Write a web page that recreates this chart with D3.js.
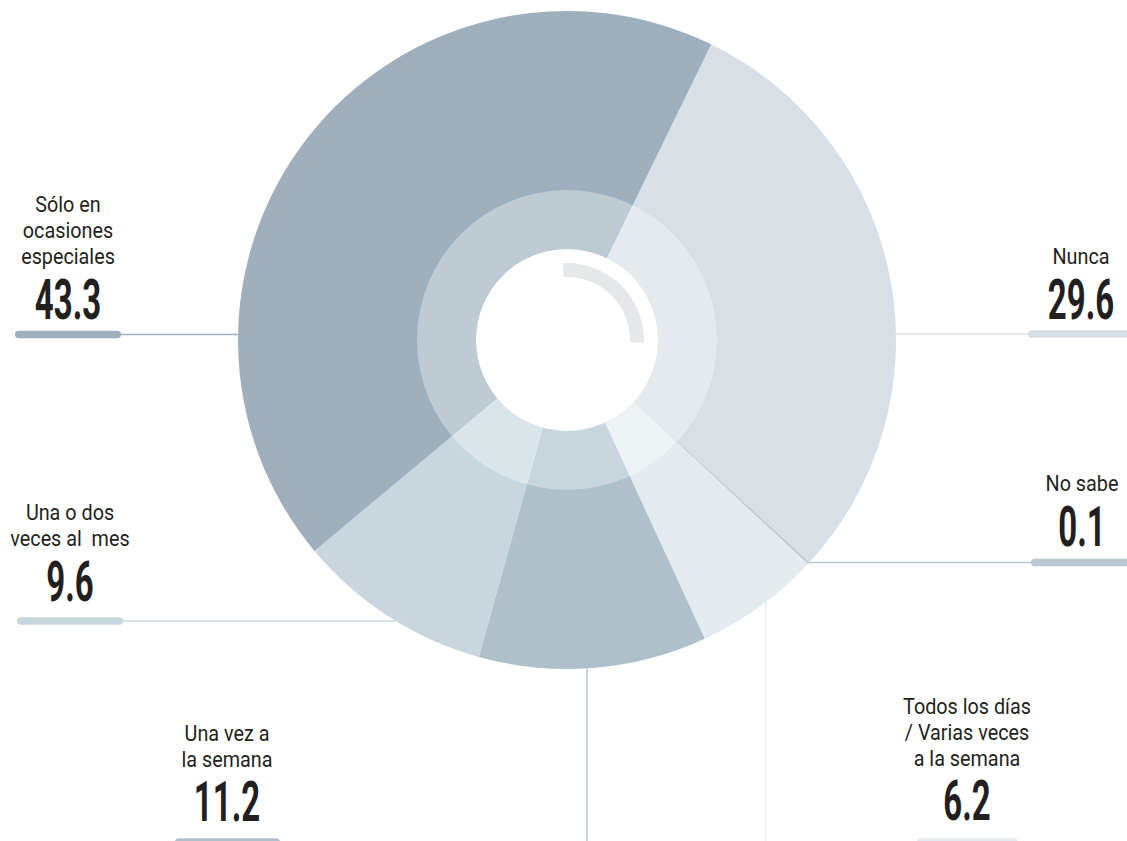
<!DOCTYPE html>
<html>
<head>
<meta charset="utf-8">
<script src="https://cdn.jsdelivr.net/npm/d3@7/dist/d3.min.js"></script>
<style>
  html, body { margin: 0; padding: 0; background: #fff; }
  svg { display: block; }
  .lbl { font-family: Roboto, "Liberation Sans", sans-serif; font-size: 22px; fill: #231f20; }
  .num { font-family: Roboto, "Liberation Sans", sans-serif; font-size: 55px; font-weight: 700; fill: #231f20; }
</style>
</head>
<body>
<svg id="chart"></svg>
<script>
const CATEGORIES = ['Nunca', 'No sabe', 'Todos los días / Varias veces a la semana',
                    'Una vez a la semana', 'Una o dos veces al mes', 'Sólo en ocasiones especiales'];
const LABEL_LINES = [
  ['Nunca'],
  ['No sabe'],
  ['Todos los días', '/ Varias veces', 'a la semana'],
  ['Una vez a', 'la semana'],
  ['Una o dos', 'veces al\u00a0 mes'],
  ['Sólo en', 'ocasiones', 'especiales']
];
const VALUES = [29.6, 0.1, 6.2, 11.2, 9.6, 43.3];
const VALUE_LABELS = ['29.6', '0.1', '6.2', '11.2', '9.6', '43.3'];

const COLORS = ['#d8e0e5', '#b9c8d0', '#e4ebee', '#aec0ca', '#c8d6dd', '#9eb0bd'];

const WIDTH = 1127;
const HEIGHT = 841;
const CX = 567, CY = 340;
const R_OUTER = 329, R_MID = 150, R_INNER = 91;
const START = 26 * Math.PI / 180;

// label placement, same order as CATEGORIES
const LAYOUT = [
  { x: 1081, y0: 264, numY: 319, barY: 334, bar: [1028, 1134], leader: 'right' },
  { x: 1082, y0: 491, numY: 546, barY: 562.5, bar: [1031, 1137], leader: 'right' },
  { x: 967, y0: 714, numY: 820, barY: 842, bar: [917, 1018], leader: 'down', lx: 766 },
  { x: 227, y0: 741, numY: 821, barY: 842, bar: [175, 280], leader: 'down', lx: 587 },
  { x: 70, y0: 520, numY: 601, barY: 621, bar: [17, 123], leader: 'left' },
  { x: 68, y0: 212, numY: 319, barY: 334.5, bar: [15, 121], leader: 'left' }
];
const LINE_H = 26;

const svg = d3.select('#chart')
              .attr('width', WIDTH)
              .attr('height', HEIGHT);

const pie = d3.pie().sort(null).value(d => d)
              .startAngle(START).endAngle(START + 2 * Math.PI);
const arcs = pie(VALUES);

const outerArc = d3.arc().innerRadius(0).outerRadius(R_OUTER);

const donut = svg.append('g').attr('transform', `translate(${CX},${CY})`);

donut.selectAll('.slice')
     .data(arcs)
     .enter()
     .append('path')
     .classed('slice', true)
     .attr('d', outerArc)
     .attr('fill', (d, i) => COLORS[i]);

// lighter middle ring
donut.append('path')
     .attr('d', d3.arc()({ innerRadius: R_INNER, outerRadius: R_MID, startAngle: 0, endAngle: 2 * Math.PI }))
     .attr('fill', '#fff')
     .attr('fill-opacity', 0.34);

donut.append('circle')
     .attr('r', R_INNER)
     .attr('fill', '#fff');

// small grey arc in the hole
donut.append('path')
     .attr('d', d3.arc()({ innerRadius: 63, outerRadius: 77,
                           startAngle: -3 * Math.PI / 180, endAngle: 92 * Math.PI / 180 }))
     .attr('fill', '#e6e7e8');

// leaders
const leaders = svg.append('g');
LAYOUT.forEach((l, i) => {
  let x1, y1, x2, y2;
  if (l.leader === 'down') {
    const dx = l.lx - CX;
    x1 = x2 = l.lx;
    y1 = CY + Math.sqrt(R_OUTER * R_OUTER - dx * dx);
    y2 = HEIGHT;
  } else {
    const dy = l.barY - CY;
    const edge = Math.sqrt(R_OUTER * R_OUTER - dy * dy);
    y1 = y2 = l.barY;
    if (l.leader === 'left') { x1 = l.bar[1]; x2 = CX - edge; }
    else { x1 = CX + edge; x2 = l.bar[0]; }
  }
  leaders.append('line')
         .attr('x1', x1).attr('y1', y1)
         .attr('x2', x2).attr('y2', y2)
         .attr('stroke', COLORS[i])
         .attr('stroke-width', 1.4);

  leaders.append('line')
         .attr('x1', l.bar[0] + 3.75).attr('x2', l.bar[1] - 3.75)
         .attr('y1', l.barY).attr('y2', l.barY)
         .attr('stroke', COLORS[i])
         .attr('stroke-width', 7.5)
         .attr('stroke-linecap', 'round');
});

// texts
const labels = svg.append('g');
LAYOUT.forEach((l, i) => {
  LABEL_LINES[i].forEach((t, j) => {
    labels.append('text')
          .classed('lbl', true)
          .attr('text-anchor', 'middle')
          .attr('transform', `translate(${l.x},${l.y0 + j * LINE_H}) scale(0.9,1)`)
          .text(t);
  });
  labels.append('text')
        .classed('num', true)
        .attr('text-anchor', 'middle')
        .attr('transform', `translate(${l.x},${l.numY}) scale(0.6,1)`)
        .text(VALUE_LABELS[i]);
});
</script>
</body>
</html>
